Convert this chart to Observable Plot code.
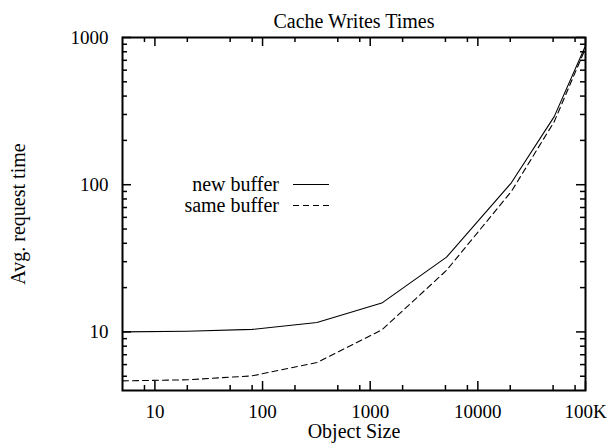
<!DOCTYPE html>
<html>
<head>
<meta charset="utf-8">
<script src="https://cdn.jsdelivr.net/npm/d3@7"></script>
<script src="https://cdn.jsdelivr.net/npm/@observablehq/plot@0.6"></script>
<style>
  html, body { margin: 0; padding: 0; background: #fff; }
  svg { display: block; }
</style>
</head>
<body>
<div id="chart"></div>
<script>
// ---- data ----
const objectSizes = [5, 20, 80, 320, 1280, 5120, 20480, 51200, 100000];
const newBuffer   = [10.0, 10.1, 10.4, 11.6, 15.7, 32.2, 103, 290, 880];
const sameBuffer  = [4.65, 4.73, 5.03, 6.2, 10.3, 26.2, 90, 268, 845];

const seriesNames = ["new buffer", "same buffer"];

const xMajorTicks = [10, 100, 1000, 10000, 100000];
const xTickLabels = ["10", "100", "1000", "10000", "100K"];
const xMinorTicks = [8, 20, 50, 80, 200, 500, 800, 2000, 5000, 8000, 20000, 50000, 80000];

const yMajorTicks = [10, 100, 1000];
const yTickLabels = ["10", "100", "1000"];
const yMinorTicks = [5, 6, 7, 8, 9, 20, 30, 40, 50, 60, 70, 80, 90, 200, 300, 400, 500, 600, 700, 800, 900];

const titleText = "Cache Writes Times";
const xLabelText = "Object Size";
const yLabelText = "Avg. request time";

// ---- layout ----
const W = 608, H = 443;
const mL = 122, mR = 23, mT = 37, mB = 53;
const innerW = W - mL - mR, innerH = H - mT - mB;
const majorLen = 9, minorLen = 5;

const newRows = objectSizes.map((s, i) => ({size: s, value: newBuffer[i]}));
const sameRows = objectSizes.map((s, i) => ({size: s, value: sameBuffer[i]}));

const xFmt = d => xTickLabels[xMajorTicks.indexOf(d)];
const yFmt = d => yTickLabels[yMajorTicks.indexOf(d)];

const svg = Plot.plot({
  width: W,
  height: H,
  marginLeft: mL,
  marginRight: mR,
  marginTop: mT,
  marginBottom: mB,
  style: {fontFamily: "'Liberation Serif', 'Times New Roman', serif", fontSize: "20px", color: "black", background: "white"},
  x: {type: "log", domain: [5, 100000]},
  y: {type: "log", domain: [4, 1000]},
  marks: [
    // tick labels
    Plot.axisX({ticks: xMajorTicks, tickFormat: xFmt, tickSize: 0, tickPadding: 13.5, label: null, fontSize: 19}),
    Plot.axisY({ticks: yMajorTicks, tickFormat: yFmt, tickSize: 0, tickPadding: 14, label: null, fontSize: 19}),
    // inward ticks, mirrored on all four sides
    Plot.tickX(xMajorTicks, {x: d => d, insetTop: innerH - majorLen, strokeWidth: 1.5}),
    Plot.tickX(xMajorTicks, {x: d => d, insetBottom: innerH - majorLen, strokeWidth: 1.5}),
    Plot.tickX(xMinorTicks, {x: d => d, insetTop: innerH - minorLen, strokeWidth: 1.5}),
    Plot.tickX(xMinorTicks, {x: d => d, insetBottom: innerH - minorLen, strokeWidth: 1.5}),
    Plot.tickY(yMajorTicks, {y: d => d, insetRight: innerW - majorLen, strokeWidth: 1.5}),
    Plot.tickY(yMajorTicks, {y: d => d, insetLeft: innerW - majorLen, strokeWidth: 1.5}),
    Plot.tickY(yMinorTicks, {y: d => d, insetRight: innerW - minorLen, strokeWidth: 1.5}),
    Plot.tickY(yMinorTicks, {y: d => d, insetLeft: innerW - minorLen, strokeWidth: 1.5}),
    // data
    Plot.line(newRows, {x: "size", y: "value", stroke: "black", strokeWidth: 1.1}),
    Plot.line(sameRows, {x: "size", y: "value", stroke: "black", strokeWidth: 1.1, strokeDasharray: "6,4"}),
    Plot.frame({stroke: "black", strokeWidth: 2}),
    // titles
    Plot.text([titleText], {frameAnchor: "top", textAnchor: "middle", lineAnchor: "middle", dy: -16, fontSize: 20, fill: "black"}),
    Plot.text([xLabelText], {frameAnchor: "bottom", textAnchor: "middle", lineAnchor: "middle", dy: 41, fontSize: 20, fill: "black"}),
    Plot.text([yLabelText], {frameAnchor: "left", textAnchor: "middle", lineAnchor: "middle", dx: -103.5, rotate: -90, fontSize: 20, fill: "black"})
  ]
});

// ---- key (legend) inside the plot area ----
const key = d3.select(svg).append("g")
  .attr("font-family", "'Liberation Serif', 'Times New Roman', serif")
  .attr("font-size", 20);
const keyTextRight = mL + 157;
const keyLineX1 = mL + 171, keyLineX2 = mL + 207;
const keyY = [mT + 147.5, mT + 168.5];
seriesNames.forEach((name, i) => {
  key.append("text")
    .attr("x", keyTextRight).attr("y", keyY[i] + 6.5)
    .attr("text-anchor", "end").attr("fill", "black")
    .text(name);
  key.append("line")
    .attr("x1", keyLineX1).attr("x2", keyLineX2)
    .attr("y1", keyY[i]).attr("y2", keyY[i])
    .attr("stroke", "black").attr("stroke-width", 1.1)
    .attr("stroke-dasharray", i === 1 ? "6,4" : null);
});

document.getElementById("chart").appendChild(svg);
</script>
</body>
</html>
